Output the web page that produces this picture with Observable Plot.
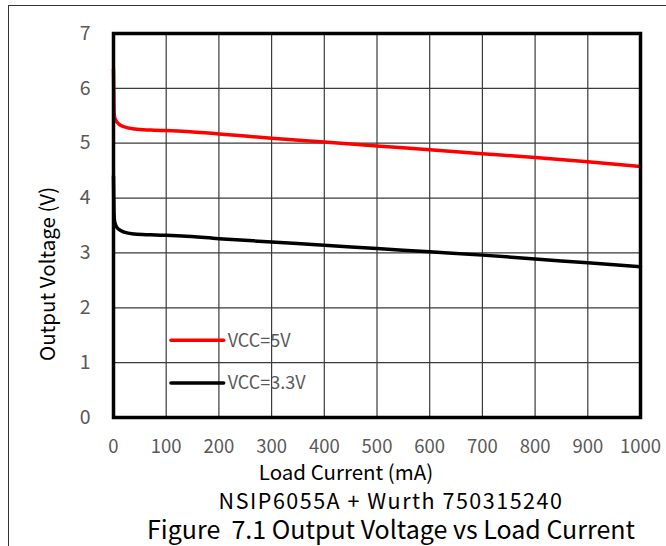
<!DOCTYPE html>
<html>
<head>
<meta charset="utf-8">
<script src="https://cdn.jsdelivr.net/npm/d3@7"></script>
<script src="https://cdn.jsdelivr.net/npm/@observablehq/plot@0.6"></script>
<style>
  html, body { margin: 0; padding: 0; background: #fff; overflow: hidden; }
  #wrap { position: relative; width: 666px; height: 546px; overflow: hidden; font-family: "Noto Sans CJK SC", "Noto Sans", sans-serif; }
  #box { position: absolute; left: 8px; top: 5px; width: 800px; height: 700px; border-left: 1.3px solid #333; border-top: 1.3px solid #333; }
  #chart { position: absolute; left: 0; top: 0; }
  .cap { position: absolute; left: 0; width: 782px; text-align: center; color: #000; white-space: pre; line-height: 1; }
</style>
</head>
<body>
<div id="wrap">
  <div id="box"></div>
  <div id="chart"></div>
  <div class="cap" id="cap1" style="top:489px; font-size:21.5px; letter-spacing:1.5px;"></div>
  <div class="cap" id="cap2" style="top:516px; font-size:25px;"></div>
</div>
<script>
// ---- data ----
const xTicks = [0, 100, 200, 300, 400, 500, 600, 700, 800, 900, 1000];
const yTicks = [0, 1, 2, 3, 4, 5, 6, 7];
const seriesNames = ["VCC=5V", "VCC=3.3V"];
const seriesColors = ["#ff0000", "#000000"];
const loadCurrent = [0, 0.5, 1, 2, 5, 10, 20, 40, 70, 100, 130, 200, 300, 400, 500, 600, 700, 800, 900, 1000];
const vout5V   = [6.35, 6.0, 5.62, 5.48, 5.41, 5.35, 5.30, 5.26, 5.24, 5.23, 5.22, 5.17, 5.09, 5.02, 4.95, 4.88, 4.81, 4.74, 4.66, 4.575];
const vout3V3  = [4.40, 4.0, 3.72, 3.58, 3.49, 3.43, 3.38, 3.345, 3.33, 3.32, 3.31, 3.26, 3.20, 3.14, 3.08, 3.02, 2.96, 2.89, 2.82, 2.75];
const xLabel = "Load Current (mA)";
const yLabel = "Output Voltage (V)";
const caption1 = "NSIP6055A + Wurth 750315240";
const caption2 = "Figure  7.1 Output Voltage vs Load Current";

const rows = [];
[vout5V, vout3V3].forEach((vals, s) => {
  loadCurrent.forEach((x, i) => rows.push({series: seriesNames[s], x, y: vals[i]}));
});

const font = '"Noto Sans CJK SC", "Noto Sans", sans-serif';
const fmt = d => String(d);

const plot = Plot.plot({
  width: 666,
  height: 490,
  marginLeft: 113,
  marginRight: 26,
  marginTop: 33,
  marginBottom: 73,
  style: {fontFamily: font, color: "#595959", background: "transparent", overflow: "visible"},
  x: {domain: [0, 1000]},
  y: {domain: [0, 7]},
  color: {domain: seriesNames, range: seriesColors},
  marks: [
    Plot.gridX(xTicks, {stroke: "#3a3a3a", strokeOpacity: 1, strokeWidth: 1.2}),
    Plot.gridY(yTicks, {stroke: "#3a3a3a", strokeOpacity: 1, strokeWidth: 1.2}),
    Plot.axisX(xTicks, {tickSize: 0, tickPadding: 22, fontSize: 18.5, label: null, fill: "#595959", tickFormat: fmt}),
    Plot.axisY(yTicks, {tickSize: 0, tickPadding: 23, fontSize: 19.5, label: null, fill: "#595959", tickFormat: fmt}),
    Plot.line(rows, {x: "x", y: "y", z: "series", stroke: "series", strokeWidth: 3.5, curve: "monotone-x"}),
    Plot.frame({stroke: "#000", strokeWidth: 3.5})
  ]
});

document.getElementById("chart").appendChild(plot);

const svg = d3.select(plot);
// axis titles
svg.append("text")
  .attr("x", 346).attr("y", 480)
  .attr("text-anchor", "middle")
  .attr("font-size", 20.5).attr("font-family", font).attr("fill", "#000")
  .text(xLabel);
svg.append("text")
  .attr("transform", "translate(55,274) rotate(-90)")
  .attr("text-anchor", "middle")
  .attr("font-size", 20.5).attr("font-family", font).attr("fill", "#000")
  .text(yLabel);

// legend (inside plot area)
const sx = plot.scale("x"), sy = plot.scale("y");
const legX0 = sx.apply(110), legX1 = sx.apply(210);
const legYs = [sy.apply(1.40), sy.apply(0.62)];
seriesNames.forEach((name, i) => {
  svg.append("line")
    .attr("x1", legX0).attr("x2", legX1)
    .attr("y1", legYs[i]).attr("y2", legYs[i])
    .attr("stroke", seriesColors[i]).attr("stroke-width", 3.5).attr("stroke-linecap", "round");
  svg.append("text")
    .attr("x", legX1 + 4).attr("y", legYs[i])
    .attr("dy", "0.35em")
    .attr("text-anchor", "start")
    .attr("font-size", 18).attr("font-family", font).attr("fill", "#595959")
    .text(name);
});

document.getElementById("cap1").textContent = caption1;
document.getElementById("cap2").textContent = caption2;
</script>
</body>
</html>
